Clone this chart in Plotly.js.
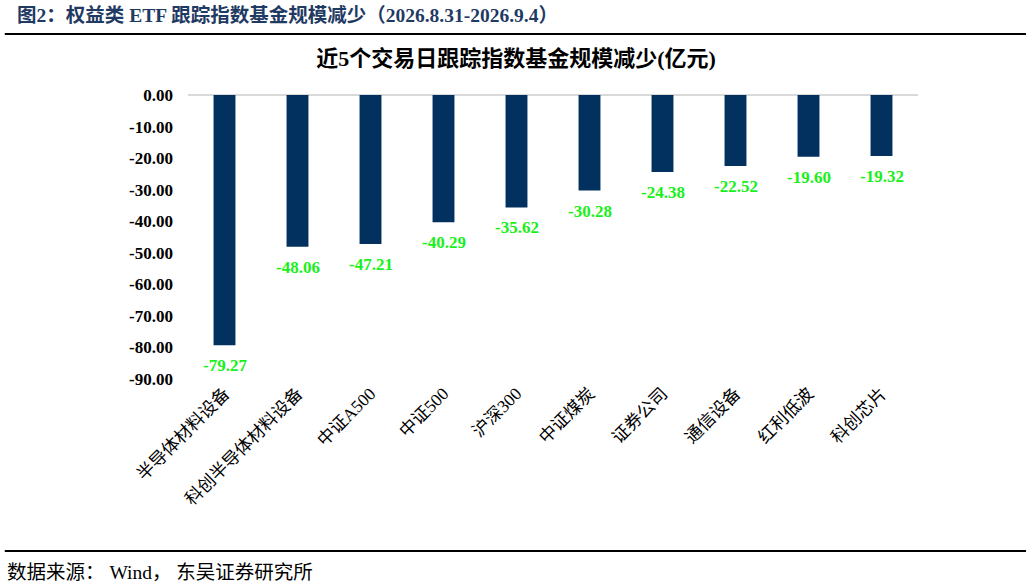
<!DOCTYPE html>
<html>
<head>
<meta charset="utf-8">
<script src="https://cdn.plot.ly/plotly-3.0.1.min.js"></script>
<style>
  html, body { margin: 0; padding: 0; background: #fff; }
  #chart { width: 1032px; height: 586px; }
</style>
</head>
<body>
<div id="chart"></div>
<script>
// 近5个交易日跟踪指数基金规模减少 (亿元)
var indexNames = ['半导体材料设备', '科创半导体材料设备', '中证A500', '中证500', '沪深300',
                  '中证煤炭', '证券公司', '通信设备', '红利低波', '科创芯片'];
var sizeChange = [-79.27, -48.06, -47.21, -40.29, -35.62, -30.28, -24.38, -22.52, -19.60, -19.32];
var yTicks = [0, -10, -20, -30, -40, -50, -60, -70, -80, -90];

var serif = '"Liberation Serif", "Times New Roman", "Noto Sans CJK SC", serif';

var bars = {
  x: indexNames,
  y: sizeChange,
  type: 'bar',
  marker: { color: '#03315f' },
  hoverinfo: 'x+y'
};

// value labels under each bar end
var valueLabels = indexNames.map(function (name, i) {
  return {
    x: name, y: sizeChange[i], xref: 'x', yref: 'y',
    text: '<b>' + sizeChange[i].toFixed(2) + '</b>',
    showarrow: false, yanchor: 'top', yshift: -9,
    font: { family: serif, size: 17, color: '#19f019' }
  };
});

// plot area: x 188..918, y 95..379 px
var layout = {
  width: 1032,
  height: 586,
  margin: { l: 188, r: 114, t: 95, b: 207 },
  paper_bgcolor: '#ffffff',
  plot_bgcolor: '#ffffff',
  showlegend: false,
  bargap: 0.7,
  font: { family: serif, color: '#000' },
  title: {
    text: '<b>近5个交易日跟踪指数基金规模减少(亿元)</b>',
    font: { family: serif, size: 22, color: '#000' },
    x: 0.5, xref: 'container',
    y: 0.9, yref: 'container', yanchor: 'middle'
  },
  xaxis: {
    tickangle: -45,
    tickfont: { family: serif, size: 17.5, color: '#000' },
    showgrid: false,
    zeroline: false,
    showline: false,
    ticks: ''
  },
  yaxis: {
    range: [-90, 0],
    tickvals: yTicks,
    ticktext: yTicks.map(function (v) { return '<b>' + v.toFixed(2) + '</b>'; }),
    tickfont: { family: serif, size: 17, color: '#000' },
    showgrid: false,
    zeroline: true,
    zerolinecolor: '#d9d9d9',
    zerolinewidth: 2,
    showline: false,
    ticks: '',
    ticklabelstandoff: 14
  },
  shapes: [
    { type: 'line', xref: 'paper', yref: 'paper', x0: -0.251, x1: 1.148, y0: 1.215, y1: 1.215,
      line: { color: '#000', width: 2 } },
    { type: 'line', xref: 'paper', yref: 'paper', x0: -0.251, x1: 1.148, y0: -0.606, y1: -0.606,
      line: { color: '#000', width: 2 } }
  ],
  annotations: [
    { text: '<b>图2：权益类 ETF 跟踪指数基金规模减少（2026.8.31-2026.9.4）</b>',
      xref: 'paper', yref: 'paper', x: -0.237, y: 1.282, xanchor: 'left', yanchor: 'middle',
      showarrow: false, font: { family: serif, size: 19.5, color: '#1f3a63' } },
    { text: '数据来源： Wind， 东吴证券研究所',
      xref: 'paper', yref: 'paper', x: -0.251, y: -0.68, xanchor: 'left', yanchor: 'middle',
      showarrow: false, font: { family: serif, size: 19.5, color: '#000' } }
  ].concat(valueLabels)
};

Plotly.newPlot('chart', [bars], layout, { displayModeBar: false, staticPlot: true });
</script>
</body>
</html>
